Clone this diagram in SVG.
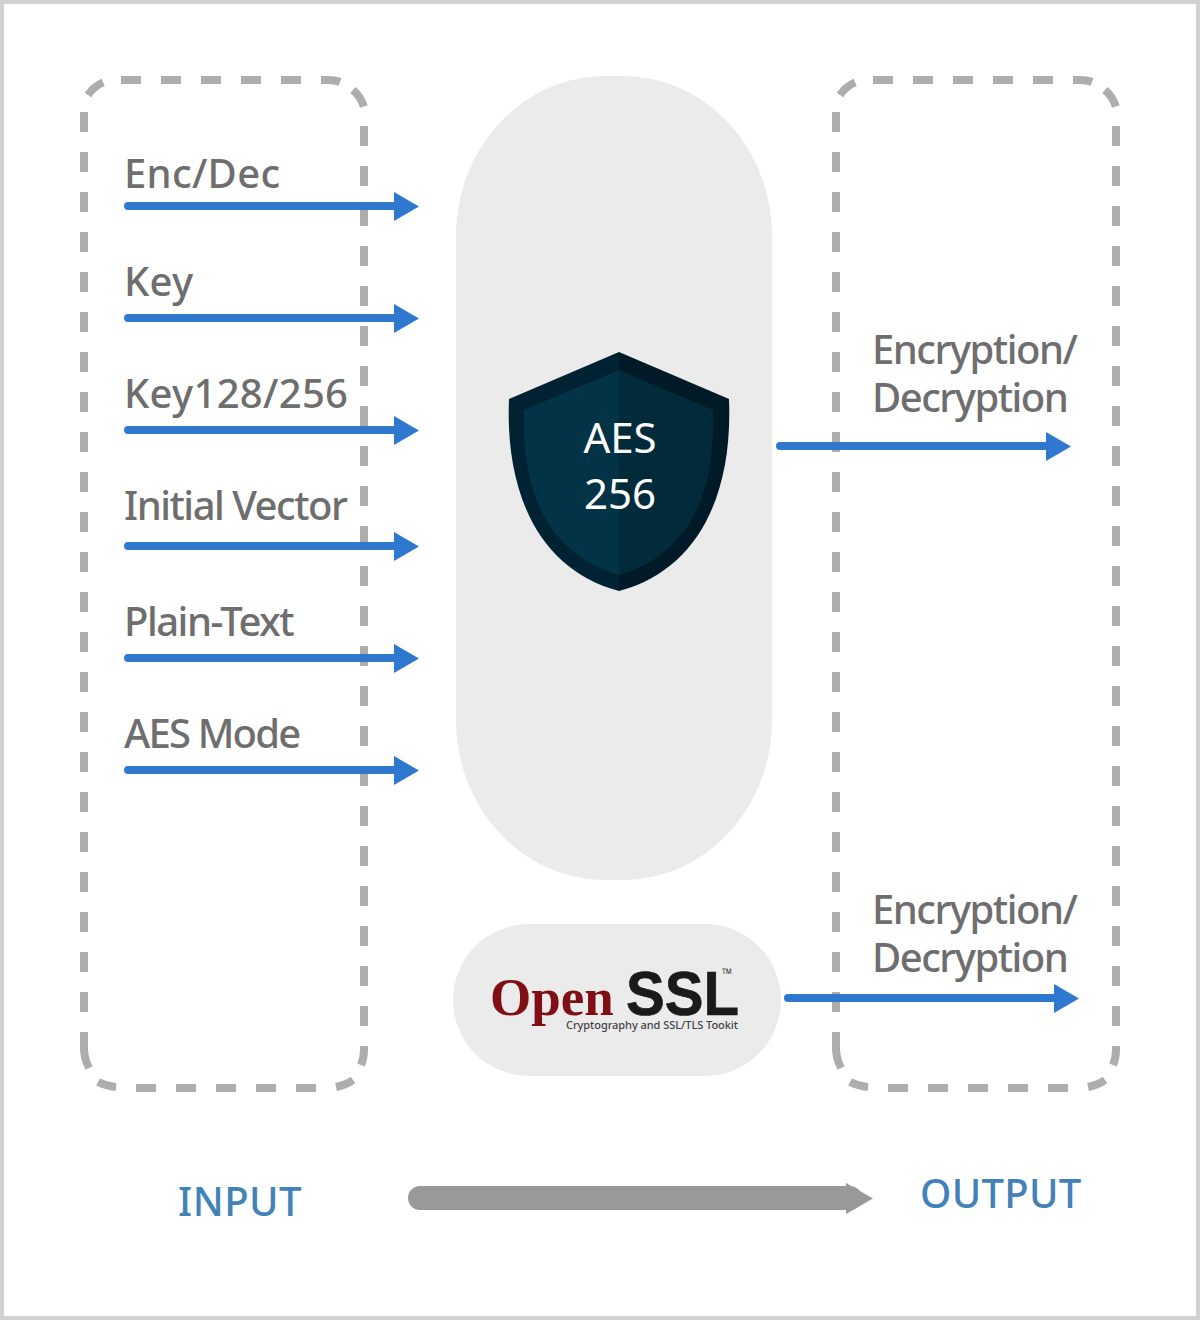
<svg xmlns="http://www.w3.org/2000/svg" width="1200" height="1320" viewBox="0 0 1200 1320">
<style>
.lbl{font-family:"Noto Sans","Open Sans",sans-serif;font-size:40px;font-weight:500;fill:#6e6e6e;letter-spacing:-1.5px}
.w{letter-spacing:0.3px}
.t{letter-spacing:-1.8px}
.io{font-family:"Noto Sans","Open Sans",sans-serif;font-size:40px;font-weight:500;fill:#4382b9;letter-spacing:0.5px}
.box{fill:none;stroke:#adadad;stroke-width:8;stroke-dasharray:20 20}
.ln{fill:none;stroke:#2e78d0;stroke-width:8;stroke-linecap:round}
.hd{fill:#2e78d0}
</style>
<defs>
<path id="dash" d="M121 80H327M88 95Q94 86 104 82M321 80H327Q335 80 340 82M353 90Q361 97 364 107M364 126V1046M364 1046V1050Q364 1058 361 1065M353 1080Q346 1085 336 1087M316 1088H136M116 1087Q106 1086 98 1082M89 1068Q84 1058 84 1048V1032M84 1052V112"/>
</defs>
<rect x="2" y="2" width="1196" height="1316" fill="#fff" stroke="#d2d2d2" stroke-width="4"/>
<g id="input-box"><use href="#dash" class="box"/></g>
<g id="output-box"><use href="#dash" class="box" transform="translate(752 0)"/></g>
<g id="aes-core">
<path d="M456 236C456 150 520 76 606 76H622C708 76 772 150 772 236V720C772 806 708 880 622 880H606C520 880 456 806 456 720Z" fill="#ebebeb"/>
<path d="M619 352L509 399C505 495 540 570 619 591Z" fill="#012233"/>
<path d="M619 352L729 399C733 495 698 570 619 591Z" fill="#001a27"/>
<path d="M619 370L524 410C521 495 550 555 619 575Z" fill="#023347"/>
<path d="M619 370L713 410C716 495 688 555 619 575Z" fill="#012b3a"/>
<text x="620" y="453" text-anchor="middle" font-family="Noto Sans,sans-serif" font-size="42" fill="#fff">AES</text>
<text x="620" y="509" text-anchor="middle" font-family="Noto Sans,sans-serif" font-size="42" fill="#fff">256</text>
</g>
<g id="openssl">
<rect x="453" y="924" width="328" height="152" rx="76" fill="#ebebeb"/>
<text x="490" y="1015" font-family="Liberation Serif,serif" font-weight="700" font-size="53" fill="#7f0f14">Open</text>
<text x="626" y="1015" font-family="Liberation Sans,sans-serif" font-weight="700" font-size="63" textLength="113" lengthAdjust="spacingAndGlyphs" fill="#1a1a1a" stroke="#1a1a1a" stroke-width="0.7">SSL</text>
<text x="721" y="978" font-family="Liberation Sans,sans-serif" font-size="14" textLength="11" lengthAdjust="spacingAndGlyphs" fill="#444">™</text>
<text x="566" y="1029" font-family="Noto Sans,sans-serif" font-weight="500" font-size="11" textLength="172" fill="#444">Cryptography and SSL/TLS Tookit</text>
</g>
<g id="labels">
<text class="lbl w" x="124" y="188">Enc/Dec</text>
<text class="lbl w" x="124" y="296">Key</text>
<text class="lbl w" x="124" y="408">Key128/256</text>
<text class="lbl" x="124" y="520">Initial Vector</text>
<text class="lbl" x="124" y="636">Plain-Text</text>
<text class="lbl t" x="124" y="748">AES Mode</text>
<text class="lbl" x="872" y="364">Encryption/</text>
<text class="lbl" x="872" y="412">Decryption</text>
<text class="lbl" x="872" y="924">Encryption/</text>
<text class="lbl" x="872" y="972">Decryption</text>
<text class="io" x="178" y="1216">INPUT</text>
<text class="io" x="920" y="1208" style="letter-spacing:.3px">OUTPUT</text>
</g>
<g id="connectors">
<path class="ln" d="M128 206H396M128 318H396M128 430H396M128 546H396M128 658H396M128 770H396M780 446H1048M788 998H1056"/>
<path class="hd" d="M394 192L419 206.5L394 221ZM394 304L419 318.5L394 333ZM394 416L419 430.5L394 445ZM394 532L419 546.5L394 561ZM394 644L419 658.5L394 673ZM394 756L419 770.5L394 785ZM1046 432L1071 446.5L1046 461ZM1054 984L1079 998.5L1054 1013Z"/>
<path d="M420 1198H850" fill="none" stroke="#999" stroke-width="24" stroke-linecap="round"/>
<path d="M846 1183L873 1198.5L846 1214Z" fill="#999"/>
</g>
</svg>
